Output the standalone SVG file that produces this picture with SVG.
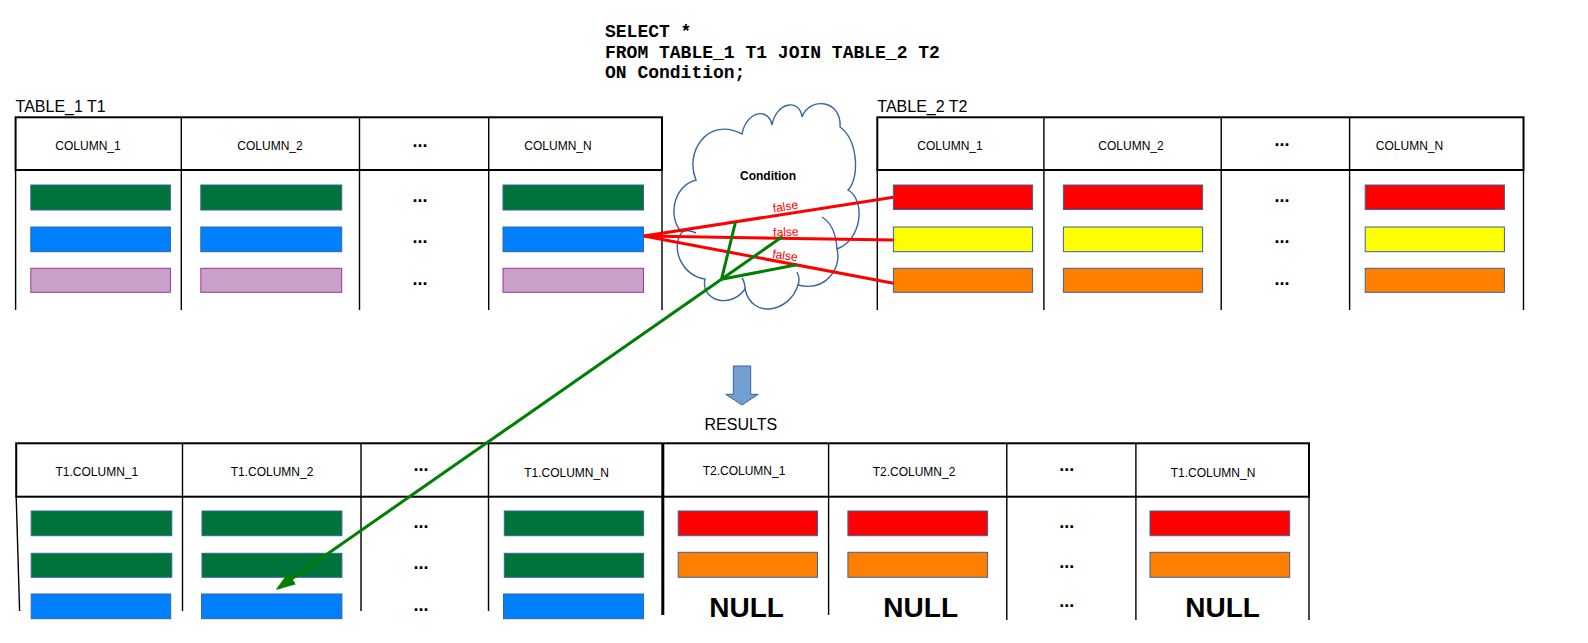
<svg xmlns="http://www.w3.org/2000/svg" width="1588" height="643" viewBox="0 0 1588 643">
<defs>
<style>
.hdr{fill:#fff;stroke:#000;stroke-width:2}
.vl{stroke:#000;stroke-width:1.4;fill:none}
.vt{stroke:#000;stroke-width:3;fill:none}
.t{font-family:"Liberation Sans",Arial,sans-serif;font-size:12px;text-anchor:middle;fill:#000}
.ttl{font-family:"Liberation Sans",Arial,sans-serif;font-size:16px;fill:#000}
.dots{font-family:"Liberation Sans",Arial,sans-serif;font-size:18px;font-weight:bold;text-anchor:middle;fill:#000}
.null{font-family:"Liberation Sans",Arial,sans-serif;font-size:28px;font-weight:bold;text-anchor:middle;fill:#000}
.sql{font-family:"Liberation Mono","Courier New",monospace;font-size:18px;font-weight:bold;fill:#000}
.bar{stroke:#3465a4;stroke-width:1}
.g{fill:#00733a}.b{fill:#0080ff}.p{fill:#c8a0c8;stroke:#a2339f}.r{fill:#ff0000}.y{fill:#ffff00}.o{fill:#ff8000}
.red{stroke:#ff0000;stroke-width:3;fill:none}
.grn{stroke:#008000;stroke-width:3;fill:none}
.fl{font-family:"Liberation Sans",Arial,sans-serif;font-size:12px;fill:#ff0000;text-anchor:middle}
</style>
<marker id="ah" viewBox="0 0 20 14" refX="16" refY="7" markerWidth="20" markerHeight="14" markerUnits="userSpaceOnUse" orient="auto">
<path d="M0,0 L20,7 L0,14 z" fill="#008000"/>
</marker>
</defs>
<rect width="1588" height="643" fill="#fff"/>

<g id="sql">
<text class="sql" x="605" y="37">SELECT *</text>
<text class="sql" x="605" y="57.5">FROM TABLE_1 T1 JOIN TABLE_2 T2</text>
<text class="sql" x="605" y="78">ON Condition;</text>
</g>

<g id="table1">
<text class="ttl" x="15.6" y="111.5">TABLE_1 T1</text>
<rect class="hdr" x="15.6" y="117.3" width="646.4" height="52.7"/>
<path class="vl" d="M15.6,170V310M181.3,117V310M359.5,117V310M488.7,117V310M662,170V310"/>
<text class="t" x="88" y="149.5">COLUMN_1</text>
<text class="t" x="270" y="149.5">COLUMN_2</text>
<text class="dots" x="420" y="146.5">...</text>
<text class="t" x="558" y="150">COLUMN_N</text>
<rect class="bar g" x="30.8" y="185" width="139.6" height="25"/>
<rect class="bar g" x="200.8" y="185" width="140.9" height="25"/>
<rect class="bar g" x="503" y="185" width="140.5" height="25"/>
<rect class="bar b" x="30.8" y="227" width="139.6" height="24.7"/>
<rect class="bar b" x="200.8" y="227" width="140.9" height="24.7"/>
<rect class="bar b" x="503" y="227" width="140.5" height="24.7"/>
<rect class="bar p" x="30.8" y="268.3" width="139.6" height="24"/>
<rect class="bar p" x="200.8" y="268.3" width="140.9" height="24"/>
<rect class="bar p" x="503" y="268.3" width="140.5" height="24"/>
<text class="dots" x="420" y="201.5">...</text>
<text class="dots" x="420" y="243">...</text>
<text class="dots" x="420" y="285">...</text>
</g>

<g id="table2">
<text class="ttl" x="877.3" y="111.5">TABLE_2 T2</text>
<rect class="hdr" x="877.3" y="117.3" width="646.2" height="52.7"/>
<path class="vl" d="M877.3,170V310M1043.9,117V310M1221.2,117V310M1349.6,117V310M1523.5,170V310"/>
<text class="t" x="950" y="149.5">COLUMN_1</text>
<text class="t" x="1131" y="149.5">COLUMN_2</text>
<text class="dots" x="1282" y="145.5">...</text>
<text class="t" x="1409.5" y="150">COLUMN_N</text>
<rect class="bar r" x="893.4" y="185" width="139.2" height="24.5"/>
<rect class="bar r" x="1063.4" y="185" width="139.2" height="24.5"/>
<rect class="bar r" x="1365.2" y="185" width="139.2" height="24.5"/>
<rect class="bar y" x="893.4" y="227" width="139.2" height="24.7"/>
<rect class="bar y" x="1063.4" y="227" width="139.2" height="24.7"/>
<rect class="bar y" x="1365.2" y="227" width="139.2" height="24.7"/>
<rect class="bar o" x="893.4" y="268.3" width="139.2" height="24"/>
<rect class="bar o" x="1063.4" y="268.3" width="139.2" height="24"/>
<rect class="bar o" x="1365.2" y="268.3" width="139.2" height="24"/>
<text class="dots" x="1282" y="201.5">...</text>
<text class="dots" x="1282" y="243">...</text>
<text class="dots" x="1282" y="284.5">...</text>
</g>

<g id="cloud">
<path d="M696,180 C684,152 708,116 742,134 C746,112 768,106 772,125 C776,102 800,98 802,117 C810,96 842,100 840,127 C858,140 860,178 848,190 C866,200 862,240 837,249 C842,268 826,292 798,285 C790,312 752,320 745,289 C730,310 700,300 705,279 C682,276 670,248 682,232 C668,220 672,186 696,180 Z" fill="#fff" stroke="#3465a4" stroke-width="1.4"/>
<path d="M837,249 C836,232 830,222 822,217 M682,232 C686,230 692,231 696,233 M798,285 C800,280 799,276 797,272 M745,289 C745,284 744,281 742,278" fill="none" stroke="#3465a4" stroke-width="1.4"/>
<text x="768" y="179.7" font-family="Liberation Sans, Arial, sans-serif" font-size="12" font-weight="bold" text-anchor="middle">Condition</text>
</g>

<g id="arrow">
<path d="M733.3,366 H750.7 V394.3 H758.3 L742,405 L725.7,394.3 H733.3 Z" fill="#729fcf" stroke="#3465a4" stroke-width="1"/>
<text class="ttl" x="740.8" y="429.5" text-anchor="middle">RESULTS</text>
</g>

<g id="results">
<rect class="hdr" x="16.2" y="443.3" width="1292.8" height="53.4"/>
<path class="vl" d="M16.2,496.7L19.6,611M182.5,443V611M361,443V611M488.5,443V611M828.6,443V615M1006.8,443V620M1135.9,443V620M1309,496.7V620"/>
<path class="vt" d="M662.8,443V615"/>
<text class="t" x="96.8" y="476">T1.COLUMN_1</text>
<text class="t" x="272" y="476">T1.COLUMN_2</text>
<text class="dots" x="421" y="470.5">...</text>
<text class="t" x="566.5" y="476.5">T1.COLUMN_N</text>
<text class="t" x="744" y="475">T2.COLUMN_1</text>
<text class="t" x="914" y="476">T2.COLUMN_2</text>
<text class="dots" x="1066.7" y="470.5">...</text>
<text class="t" x="1213" y="476.5">T1.COLUMN_N</text>
<rect class="bar g" x="31.2" y="511" width="140.6" height="24.7"/>
<rect class="bar g" x="202" y="511" width="139.9" height="24.7"/>
<rect class="bar g" x="504.3" y="511" width="139.3" height="24.7"/>
<rect class="bar g" x="31.2" y="553.3" width="140.6" height="24"/>
<rect class="bar g" x="202" y="553.3" width="139.9" height="24"/>
<rect class="bar g" x="504.3" y="553.3" width="139.3" height="24"/>
<rect class="bar b" x="31.2" y="594" width="139.5" height="24.7"/>
<rect class="bar b" x="201.5" y="594" width="140.4" height="24.7"/>
<rect class="bar b" x="503.5" y="594" width="140.1" height="24.7"/>
<text class="dots" x="421" y="527.5">...</text>
<text class="dots" x="421" y="569">...</text>
<text class="dots" x="421" y="610.5">...</text>
<rect class="bar r" x="678.2" y="511" width="139.3" height="24.7"/>
<rect class="bar r" x="847.9" y="511" width="139.7" height="24.7"/>
<rect class="bar r" x="1150" y="511" width="139.7" height="24.7"/>
<rect class="bar o" x="678.2" y="552.3" width="139.3" height="25"/>
<rect class="bar o" x="847.9" y="552.3" width="139.7" height="25"/>
<rect class="bar o" x="1150" y="552.3" width="139.7" height="25"/>
<text class="dots" x="1066.7" y="527.5">...</text>
<text class="dots" x="1066.7" y="568">...</text>
<text class="dots" x="1066.7" y="606.5">...</text>
<text class="null" x="746.6" y="617">NULL</text>
<text class="null" x="920.7" y="617">NULL</text>
<text class="null" x="1222.6" y="617">NULL</text>
</g>

<g id="connectors">
<path class="red" d="M644,236 L893.4,197.3"/>
<path class="red" d="M644,236 L893.4,240"/>
<path class="red" d="M644,236 L893.4,283.3"/>
<text class="fl" x="786" y="210.5" transform="rotate(-9 786 210.5)">false</text>
<text class="fl" x="786" y="236" transform="rotate(-2 786 236)">false</text>
<text class="fl" x="784.5" y="259.5" transform="rotate(8 784.5 259.5)">false</text>
<path class="grn" d="M721.5,279.3 L735.5,222"/>
<path class="grn" d="M721.5,279.3 L782.5,236.5"/>
<path class="grn" d="M721.5,279.3 L796.7,264.8"/>
<path class="grn" d="M721.5,279.3 L278.9,587.7" marker-end="url(#ah)"/>
</g>
</svg>
